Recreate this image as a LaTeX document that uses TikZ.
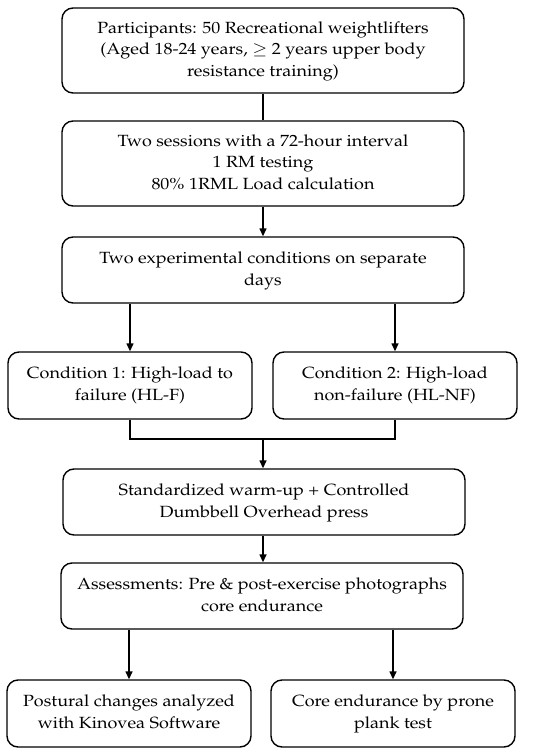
\documentclass[tikz,border=0pt]{standalone}
\usepackage[T1]{fontenc}
\usepackage{mathpazo}
\usepackage{graphicx}
\usetikzlibrary{arrows.meta}
\newcommand{\hsx}[1]{\scalebox{1.11}[1]{\begin{tabular}{@{}c@{}}#1\end{tabular}}}
\begin{document}
\begin{tikzpicture}[x=1pt,y=-1pt,
  box/.style={draw=black,line width=1.4pt,rounded corners=11pt,align=center,inner sep=0pt,
    font=\fontsize{16.2}{21.7}\selectfont},
  bigbox/.style={box,minimum width=402pt},
  smallbox/.style={box,minimum width=244pt,minimum height=67pt},
  arr/.style={line width=1.4pt,-{Triangle[length=8pt,width=7pt]}},
  ln/.style={line width=1.4pt}]
\useasboundingbox (0,0) rectangle (550,755);
\node[bigbox,minimum height=85pt] (b1) at (263,50.5) {\hsx{Participants: 50 Recreational weightlifters\\(Aged 18-24 years, $\geq$ 2 years upper body\\resistance training)}};
\node[bigbox,minimum height=85pt] (b2) at (263,163.5) {\hsx{Two sessions with a 72-hour interval\\1 RM testing\\80\% 1RML Load calculation}};
\node[bigbox,minimum height=66pt] (b3) at (263,270) {\hsx{Two experimental conditions on separate\\days}};
\node[smallbox] (c1) at (130,385.5) {\hsx{Condition 1: High-load to\\failure (HL-F)}};
\node[smallbox] (c2) at (395,385.5) {\hsx{Condition 2: High-load\\non-failure (HL-NF)}};
\node[bigbox,minimum height=66pt] (b4) at (264,502) {\hsx{Standardized warm-up + Controlled\\Dumbbell Overhead press}};
\node[bigbox,minimum height=66pt] (b5) at (262,596) {\hsx{Assessments: Pre \& post-exercise photographs\\core endurance}};
\node[smallbox] (d1) at (129,713.5) {\hsx{Postural changes analyzed\\with Kinovea Software}};
\node[smallbox] (d2) at (393,713.5) {\hsx{Core endurance by prone\\plank test}};
\coordinate (j) at (263,439);
\draw[ln] (b1.south) -- (b2.north);
\draw[arr] (b2.south) -- (b3.north);
\draw[arr] (c1.north |- b3.south) -- (c1.north);
\draw[arr] (c2.north |- b3.south) -- (c2.north);
\draw[ln] (c1.south) |- (j) -| (c2.south);
\draw[arr] (j) -- (b4.north -| j);
\draw[arr] (b4.south -| j) -- (b5.north -| j);
\draw[arr] (d1.north |- b5.south) -- (d1.north);
\draw[arr] (d2.north |- b5.south) -- (d2.north);
\end{tikzpicture}
\end{document}
